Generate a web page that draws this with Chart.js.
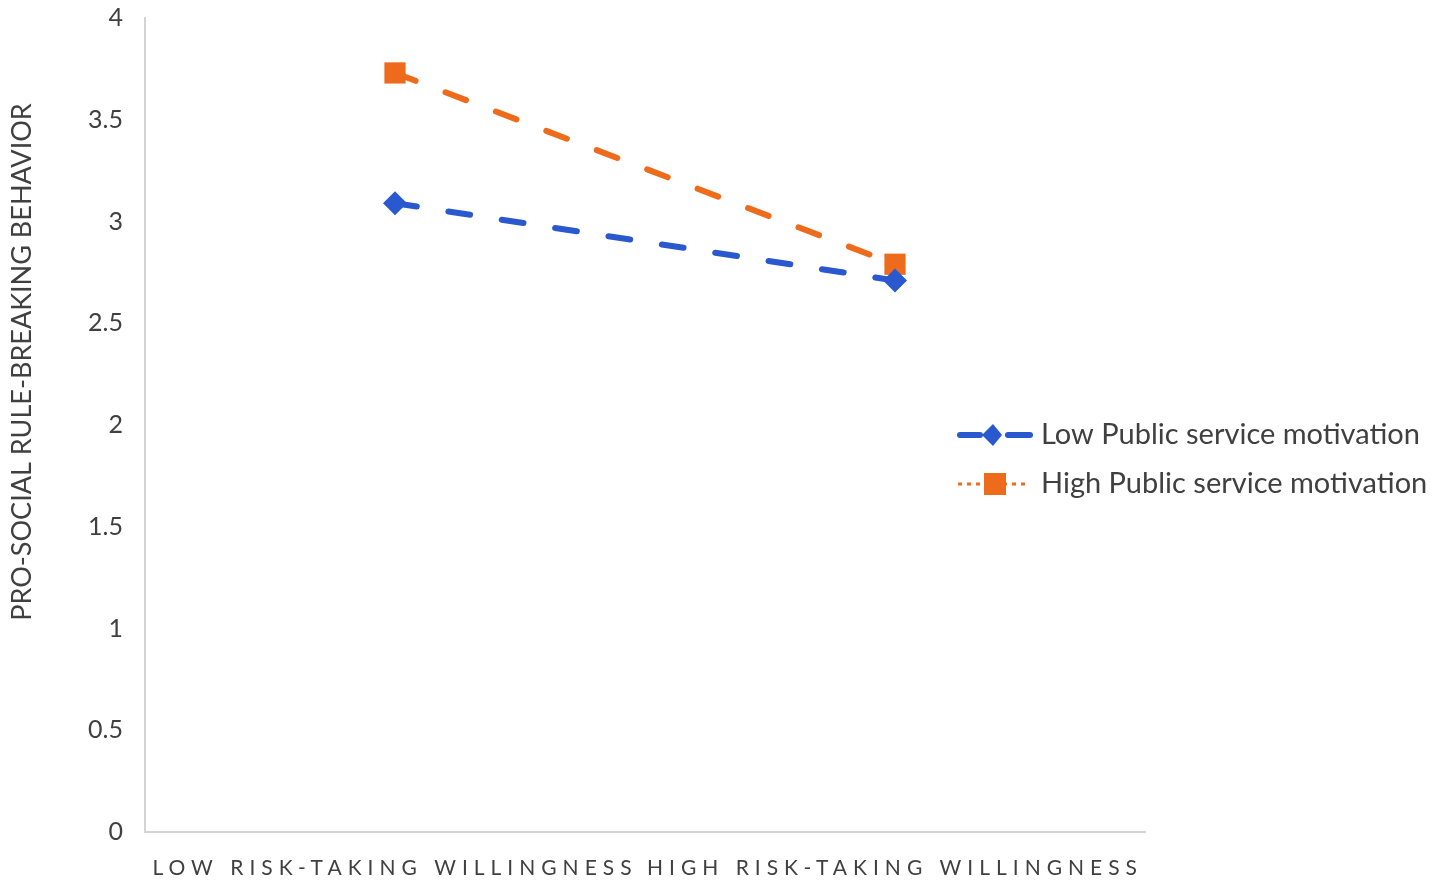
<!DOCTYPE html>
<html>
<head>
<meta charset="utf-8">
<script src="https://cdn.jsdelivr.net/npm/chart.js@4.4.1/dist/chart.umd.min.js"></script>
<style>
  html, body { margin: 0; padding: 0; background: #ffffff; }
  #wrap { width: 1441px; height: 886px; position: relative; }
</style>
</head>
<body>
<div id="wrap"><canvas id="c" width="1441" height="886"></canvas></div>
<script>
const categories = ['LOW RISK-TAKING WILLINGNESS', 'HIGH RISK-TAKING WILLINGNESS'];
const lowPSM = [3.09, 2.71];
const highPSM = [3.73, 2.79];
const seriesNames = ['Low Public service motivation', 'High Public service motivation'];
const yTitle = 'PRO-SOCIAL RULE-BREAKING BEHAVIOR';

const BLUE = '#2a58cf';
const ORANGE = '#ee6b1c';
const TEXT = '#404040';
const FONT = 'Lato';

const tweaks = {
  id: 'tweaks',
  beforeDraw(chart) {
    const x = chart.scales.x;
    if (!x._lsWrapped) {
      const orig = x.drawLabels.bind(x);
      x.drawLabels = function (ca) {
        const ctx = this.ctx;
        ctx.save();
        ctx.letterSpacing = '6px';
        orig(ca);
        ctx.restore();
      };
      x._lsWrapped = true;
    }
    const y = chart.scales.y;
    if (!y._tWrapped) {
      const origT = y.drawTitle.bind(y);
      y.drawTitle = function () {
        const ctx = this.ctx;
        ctx.save();
        ctx.translate(0, -63);
        origT();
        ctx.restore();
      };
      y._tWrapped = true;
    }
  },
  afterDraw(chart) {
    const ctx = chart.ctx;
    const items = [
      { name: seriesNames[0], color: BLUE, y: 435, style: 'diamond' },
      { name: seriesNames[1], color: ORANGE, y: 484, style: 'rect' }
    ];
    ctx.save();
    items.forEach(it => {
      ctx.strokeStyle = it.color;
      ctx.fillStyle = it.color;
      if (it.style === 'diamond') {
        ctx.lineWidth = 6;
        ctx.lineCap = 'round';
        ctx.setLineDash([]);
        ctx.beginPath(); ctx.moveTo(960, it.y); ctx.lineTo(980, it.y); ctx.stroke();
        ctx.beginPath(); ctx.moveTo(1008, it.y); ctx.lineTo(1030, it.y); ctx.stroke();
        ctx.beginPath();
        ctx.moveTo(993, it.y - 11); ctx.lineTo(1002, it.y); ctx.lineTo(993, it.y + 11); ctx.lineTo(982, it.y);
        ctx.closePath(); ctx.fill();
      } else {
        ctx.lineWidth = 3;
        ctx.lineCap = 'butt';
        ctx.setLineDash([4, 5]);
        ctx.beginPath(); ctx.moveTo(958, it.y); ctx.lineTo(1028, it.y); ctx.stroke();
        ctx.setLineDash([]);
        ctx.fillRect(984, it.y - 11, 22, 22);
      }
      ctx.fillStyle = TEXT;
      ctx.font = '29px ' + FONT;
      ctx.textBaseline = 'middle';
      ctx.textAlign = 'left';
      ctx.fillText(it.name, 1041, it.y);
    });
    ctx.restore();
  }
};

new Chart(document.getElementById('c'), {
  type: 'line',
  data: {
    labels: categories,
    datasets: [
      {
        label: seriesNames[0],
        data: lowPSM,
        borderColor: BLUE,
        backgroundColor: BLUE,
        borderWidth: 6,
        borderDash: [22, 32],
        borderCapStyle: 'round',
        pointStyle: 'rectRot',
        pointRadius: 12,
        pointBorderWidth: 0,
        fill: false,
        tension: 0
      },
      {
        label: seriesNames[1],
        data: highPSM,
        borderColor: ORANGE,
        backgroundColor: ORANGE,
        borderWidth: 6,
        borderDash: [22, 32],
        borderCapStyle: 'round',
        pointStyle: 'rect',
        pointRadius: 15,
        pointBorderWidth: 0,
        fill: false,
        tension: 0
      }
    ]
  },
  options: {
    responsive: false,
    animation: false,
    layout: { padding: { left: 0, right: 296, top: 18, bottom: 0 } },
    plugins: {
      legend: { display: false },
      tooltip: { enabled: false },
      title: { display: false }
    },
    scales: {
      x: {
        type: 'category',
        offset: true,
        grid: { display: false, drawTicks: false },
        border: { display: true, color: '#d4d4d4', width: 2 },
        ticks: {
          color: TEXT,
          font: { family: FONT, size: 21 },
          padding: 24,
          maxRotation: 0,
          autoSkip: false
        },
        afterFit(s) { s.height = 54; s.paddingLeft = 0; s.paddingRight = 0; }
      },
      y: {
        min: 0,
        max: 4,
        grid: { display: false, drawTicks: false },
        border: { display: true, color: '#d4d4d4', width: 2 },
        ticks: {
          stepSize: 0.5,
          color: TEXT,
          font: { family: FONT, size: 25 },
          padding: 22,
          callback: (v) => String(Number(v))
        },
        title: {
          display: true,
          text: yTitle,
          color: TEXT,
          font: { family: FONT, size: 27 },
          padding: { top: 6, bottom: 0 }
        },
        afterFit(s) { s.width = 145; s.paddingTop = 0; s.paddingBottom = 0; }
      }
    }
  },
  plugins: [tweaks]
});
</script>
</body>
</html>
